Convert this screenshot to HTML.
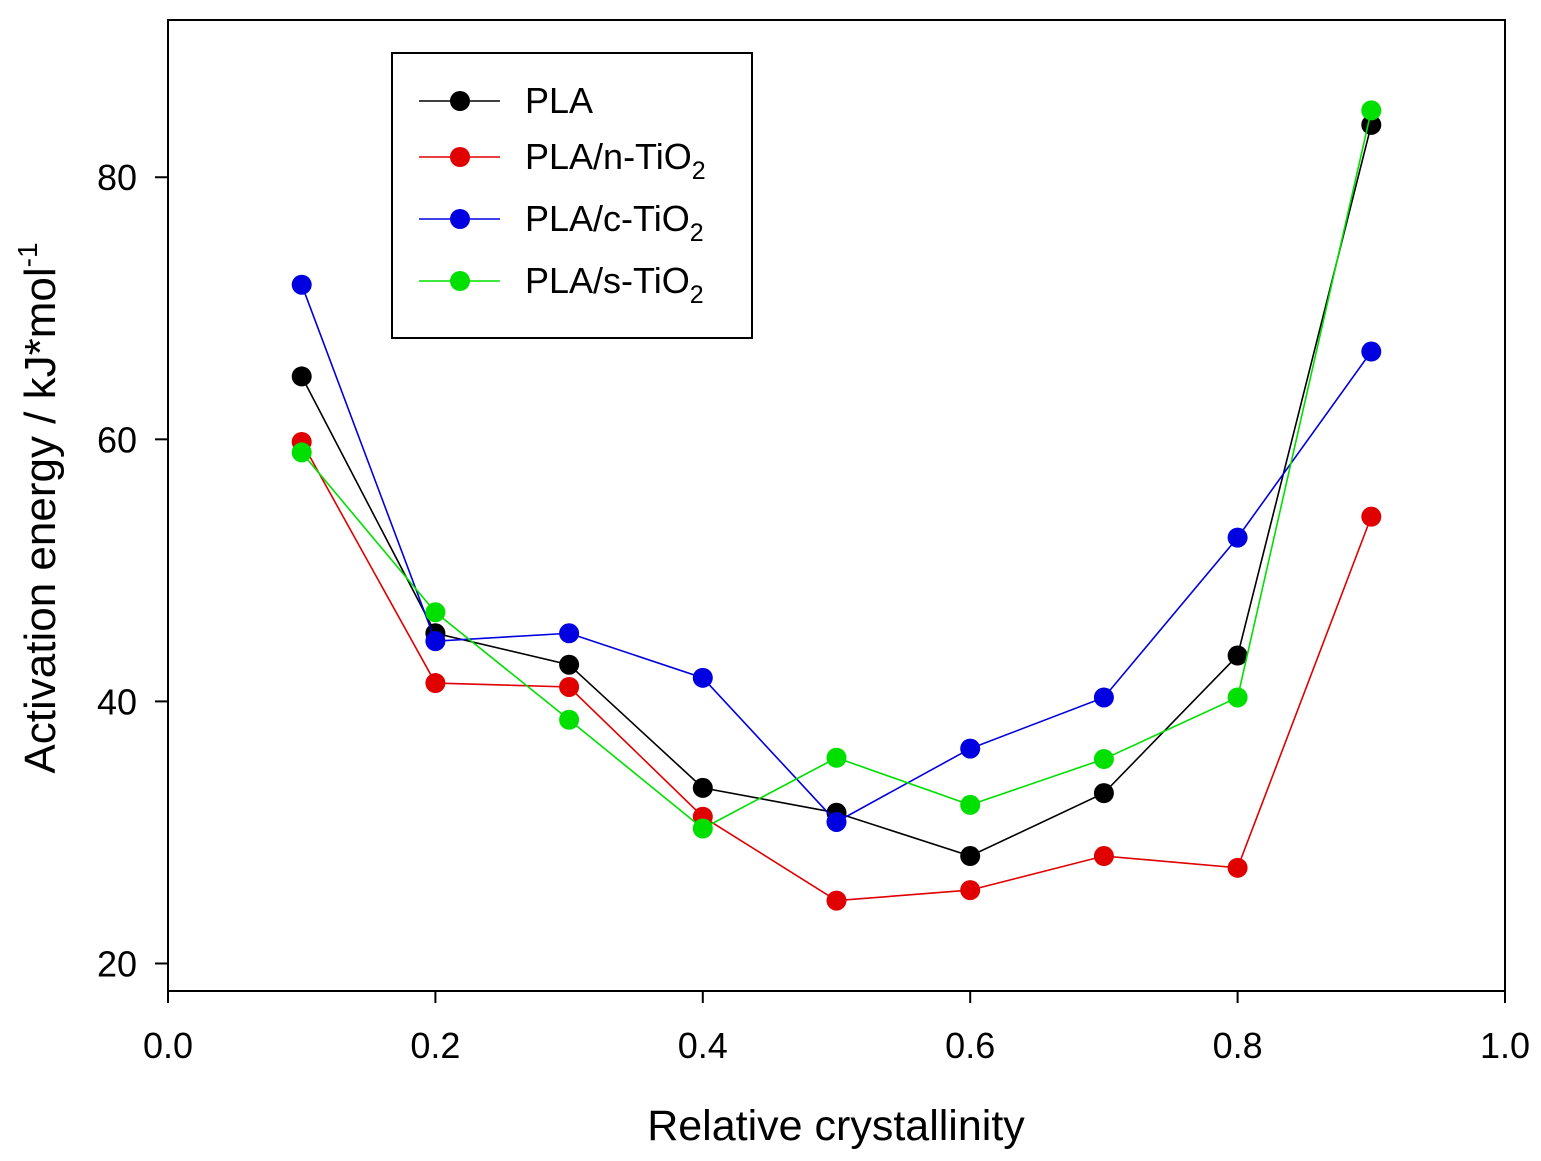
<!DOCTYPE html>
<html><head><meta charset="utf-8"><style>
html,body{margin:0;padding:0;background:#fff;}
svg{display:block;font-family:"Liberation Sans",Arial,sans-serif;}
</style></head><body>
<svg id="chart" width="1541" height="1161" viewBox="0 0 1541 1161">
<g id="axes"></g><g id="series"></g><g id="legend"></g>
</svg>
<script>
const categories = [0.1,0.2,0.3,0.4,0.5,0.6,0.7,0.8,0.9];
const plaValues = [64.8,45.2,42.8,33.4,31.5,28.2,33.0,43.5,84.0];
const nTiO2Values = [59.8,41.4,41.1,31.2,24.8,25.6,28.2,27.3,54.1];
const cTiO2Values = [71.8,44.6,45.2,41.8,30.8,36.4,40.3,52.5,66.7];
const sTiO2Values = [59.0,46.8,38.6,30.3,35.7,32.1,35.6,40.3,85.1];
const xTickLabels = ["0.0","0.2","0.4","0.6","0.8","1.0"];
const yTickLabels = ["20","40","60","80"];

const NS="http://www.w3.org/2000/svg";
const L=168,R=1505,T=20,B=991;
const xMin=0,xMax=1,yMin=17.9,yMax=92;
function xs(v){return L+(v-xMin)/(xMax-xMin)*(R-L);}
function ys(v){return B-(v-yMin)/(yMax-yMin)*(B-T);}
function mk(tag,attrs,parent){const e=document.createElementNS(NS,tag);for(const k in attrs)e.setAttribute(k,attrs[k]);parent.appendChild(e);return e;}
const axes=document.getElementById('axes');
const frame=mk('rect',{x:L,y:T,width:R-L,height:B-T,fill:'none',stroke:'#000','stroke-width':2},axes);


xTickLabels.forEach(t=>{const v=parseFloat(t);const x=xs(v);
 const tk=mk('line',{x1:x,x2:x,y1:B,y2:B+12,stroke:'#000','stroke-width':2},axes);
 
 
 const tx=mk('text',{x:x,y:1058,'font-size':36,'text-anchor':'middle',fill:'#000'},axes);tx.textContent=t;
 
 
});
yTickLabels.forEach(t=>{const v=parseFloat(t);const y=ys(v);
 const tk=mk('line',{x1:L-13,x2:L,y1:y,y2:y,stroke:'#000','stroke-width':2},axes);
 
 
 const tx=mk('text',{x:137,y:y+13,'font-size':36,'text-anchor':'end',fill:'#000'},axes);tx.textContent=t;
 
 
});
const xt=mk('text',{x:836,y:1140,'font-size':43,'text-anchor':'middle',fill:'#000'},axes);
xt.textContent='Relative crystallinity';


const yt=mk('text',{transform:'translate(55,508) rotate(-90)','font-size':44,'text-anchor':'middle',fill:'#000'},axes);
yt.innerHTML='Activation energy / kJ*mol<tspan dy="-18" font-size="28">-1</tspan>';



const seriesList=[
 {name:'pla',vals:plaValues,color:'#000000',label:'PLA',sub:''},
 {name:'pla-n-tio2',vals:nTiO2Values,color:'#e00000',label:'PLA/n-TiO',sub:'2'},
 {name:'pla-c-tio2',vals:cTiO2Values,color:'#0000e0',label:'PLA/c-TiO',sub:'2'},
 {name:'pla-s-tio2',vals:sTiO2Values,color:'#00e000',label:'PLA/s-TiO',sub:'2'}];
const sg=document.getElementById('series');
seriesList.forEach(s=>{
 const g=mk('g',{},sg);
 
 
 const pts=categories.map((c,i)=>xs(c)+','+ys(s.vals[i])).join(' ');
 const pl=mk('polyline',{points:pts,fill:'none',stroke:s.color,'stroke-width':1.6},g);
 
 
 categories.forEach((c,i)=>{
  const p=mk('circle',{cx:xs(c),cy:ys(s.vals[i]),r:10,fill:s.color},g);
  
  
 });
});
const lg=document.getElementById('legend');
const box=mk('rect',{x:392,y:53,width:360,height:285,fill:'#fff',stroke:'#000','stroke-width':2},lg);


const ly=[101,157,219,281];
seriesList.forEach((s,i)=>{
 const g=mk('g',{},lg);
 
 
 mk('line',{x1:419,x2:500,y1:ly[i],y2:ly[i],stroke:s.color,'stroke-width':1.6},g);
 mk('circle',{cx:460,cy:ly[i],r:10,fill:s.color},g);
 const t=mk('text',{x:525,y:ly[i]+12,'font-size':36,fill:'#000'},g);
 t.innerHTML=s.label+(s.sub?'<tspan dy="10" font-size="25">2</tspan>':'');
});
</script>
</body></html>
